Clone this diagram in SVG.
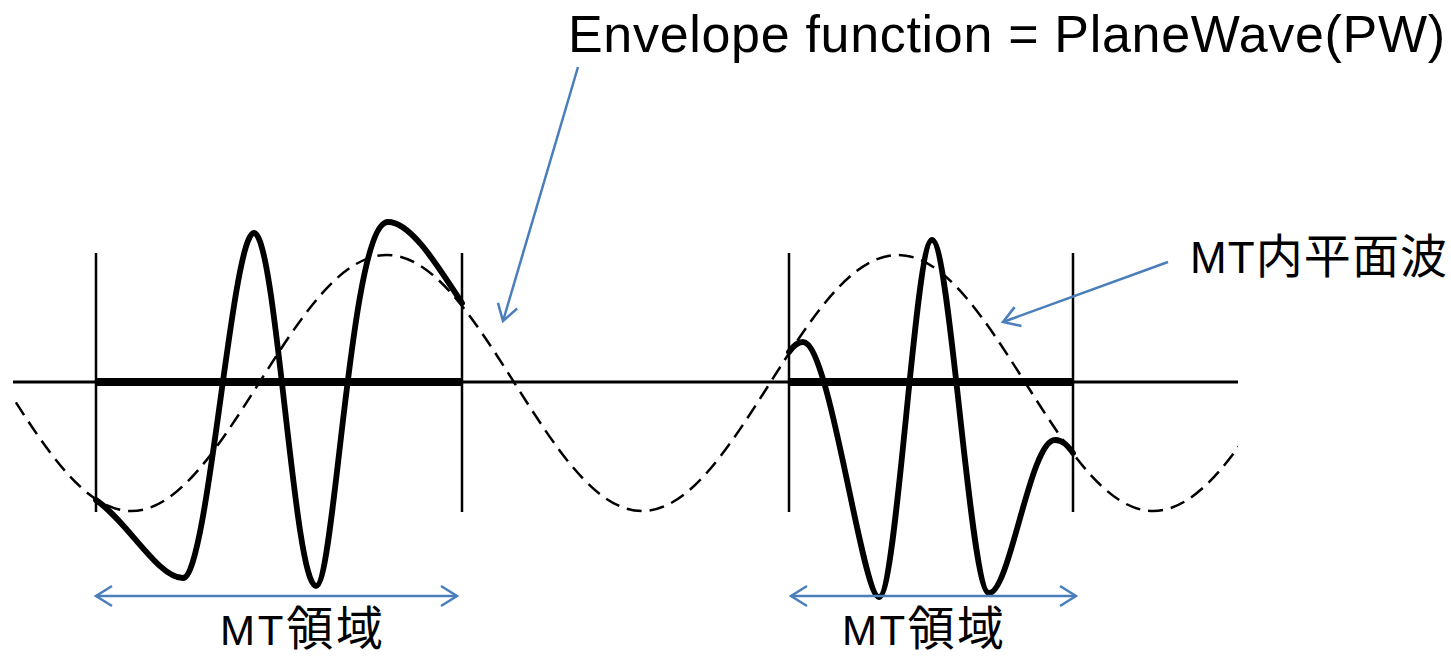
<svg xmlns="http://www.w3.org/2000/svg" width="1451" height="656" viewBox="0 0 1451 656">
<style>
.lbl{font-family:"Liberation Sans","Noto Sans CJK JP",sans-serif;fill:#000}
.cjk{font-size:47px}
.axis{stroke:#000;stroke-width:3;fill:none}
.mt{stroke:#000;stroke-width:8;fill:none}
.vl{stroke:#000;stroke-width:2.5;fill:none}
.env{stroke:#000;stroke-width:2.5;fill:none;stroke-dasharray:15 8}
.wave{stroke:#000;stroke-width:5.8;fill:none;stroke-linejoin:round;stroke-linecap:round}
.blue{stroke:#4a7ebb;stroke-width:2.5;fill:none}
</style>
<defs>
<clipPath id="clipEnv"><rect x="13" y="0" width="1225" height="656"/></clipPath>
<marker id="chev" markerUnits="userSpaceOnUse" viewBox="-20 -13 24 26" refX="0" refY="0" markerWidth="24" markerHeight="26" orient="auto-start-reverse">
<path d="M-16,-10 L0,0 L-16,10" fill="none" stroke="#4a7ebb" stroke-width="2.5"/>
</marker>
</defs>
<g id="axis">
<line class="axis" x1="13" y1="382" x2="1238" y2="382"/>
</g>
<g id="envelope">
<path class="env" clip-path="url(#clipEnv)" d="M3.5,383 C45.15,448.6 85,511 131.25,511 C177.5,511 217.35,448.6 259,383 C300.65,317.4 340.5,255 386.75,255 C433,255 472.85,317.4 514.5,383 C556.15,448.6 596,511 642.25,511 C688.5,511 728.35,448.6 770,383 C811.65,317.4 851.5,255 897.75,255 C944,255 983.85,317.4 1025.5,383 C1067.15,448.6 1107,511 1153.25,511 C1199.5,511 1239.35,448.6 1281,383"/>
</g>
<g id="mt-left">
<line class="mt" x1="96" y1="382" x2="462" y2="382"/>
<line class="vl" x1="96" y1="253" x2="96" y2="512"/>
<line class="vl" x1="462" y1="253" x2="462" y2="512"/>
<path class="wave" d="M96,500 C128,522 158,578 183,578 C208,578 232,233 254,233 C276,233 294,586 316,586 C335,586 350,222 388,222 C412,222 440,270 462,303"/>
</g>
<g id="mt-right">
<line class="mt" x1="789" y1="382" x2="1073" y2="382"/>
<line class="vl" x1="789" y1="253" x2="789" y2="512"/>
<line class="vl" x1="1073" y1="253" x2="1073" y2="512"/>
<path class="wave" d="M789,352 C794,345 798,342 803,342 C830,342 862,597 879,597 C897,597 915,240 932,240 C950,240 970,593 989,593 C1010,593 1030,440 1055,440 C1063,440 1068,446 1073,453"/>
</g>
<g id="connectors">
<line class="blue" x1="578" y1="67" x2="503" y2="321" marker-end="url(#chev)"/>
<line class="blue" x1="1168" y1="262" x2="1003" y2="322" marker-end="url(#chev)"/>
<line class="blue" x1="96" y1="596" x2="457" y2="596" marker-start="url(#chev)" marker-end="url(#chev)"/>
<line class="blue" x1="791" y1="596" x2="1076" y2="596" marker-start="url(#chev)" marker-end="url(#chev)"/>
</g>
<g id="label-envelope">
<text class="lbl" x="568" y="52" font-size="52" textLength="877" lengthAdjust="spacing">Envelope function = PlaneWave(PW)</text>
</g>
<g id="label-mt-pw">
<text class="lbl" x="1190" y="273" font-size="44" textLength="257" lengthAdjust="spacing">MT<tspan class="cjk">内平面波</tspan></text>
</g>
<g id="label-mt-left">
<text class="lbl" x="220" y="645" font-size="42" textLength="163" lengthAdjust="spacing">MT<tspan class="cjk">領域</tspan></text>
</g>
<g id="label-mt-right">
<text class="lbl" x="842" y="645" font-size="42" textLength="162" lengthAdjust="spacing">MT<tspan class="cjk">領域</tspan></text>
</g>
</svg>
